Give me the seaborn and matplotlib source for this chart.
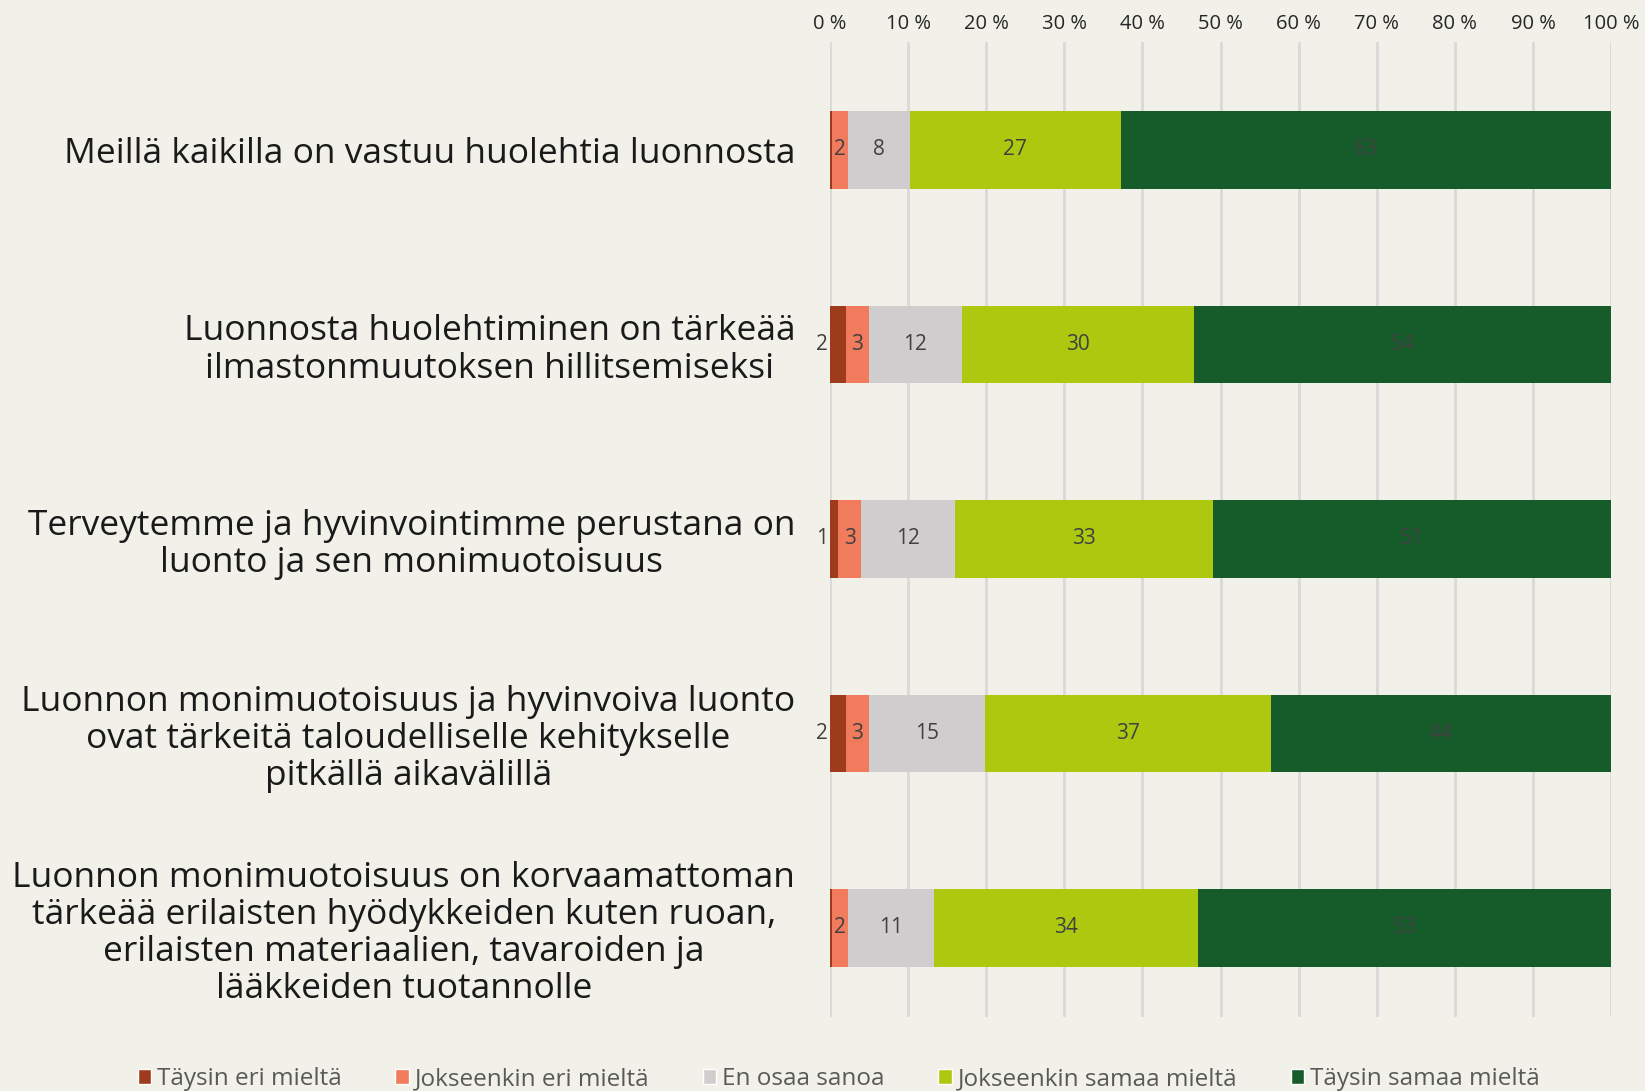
import numpy as np
import pandas as pd
import seaborn as sns
from matplotlib import pyplot as plt
from matplotlib.patches import Patch

statements = ['Meillä kaikilla on vastuu huolehtia luonnosta',
              'Luonnosta huolehtiminen on tärkeää\nilmastonmuutoksen hillitsemiseksi',
              'Terveytemme ja hyvinvointimme perustana on\nluonto ja sen monimuotoisuus',
              'Luonnon monimuotoisuus ja hyvinvoiva luonto\novat tärkeitä taloudelliselle kehitykselle\npitkällä aikavälillä',
              'Luonnon monimuotoisuus on korvaamattoman\ntärkeää erilaisten hyödykkeiden kuten ruoan,\nerilaisten materiaalien, tavaroiden ja\nlääkkeiden tuotannolle']
answers = ['Täysin eri mieltä', 'Jokseenkin eri mieltä', 'En osaa sanoa',
           'Jokseenkin samaa mieltä', 'Täysin samaa mieltä']
taysin_eri = [0.3, 2, 1, 2, 0.3]
jokseenkin_eri = [2, 3, 3, 3, 2]
en_osaa = [8, 12, 12, 15, 11]
jokseenkin_samaa = [27, 30, 33, 37, 34]
taysin_samaa = [63, 54, 51, 44, 53]
# labels shown in the chart (blank = no label)
eri_labels = ['', '2', '1', '2', '']

colors = ['#9E3B1C', '#F07B5D', '#CFCDCE', '#ACC90F', '#165C2B']
bg = '#F1F0E9'

df = pd.DataFrame({'kysymys': statements,
                   answers[0]: taysin_eri, answers[1]: jokseenkin_eri,
                   answers[2]: en_osaa, answers[3]: jokseenkin_samaa,
                   answers[4]: taysin_samaa})
vals = df[answers]
pct = vals.div(vals.sum(axis=1), axis=0) * 100
cum = pct.cumsum(axis=1)

sns.set_style('white')
plt.rcParams['font.family'] = ['Open Sans', 'DejaVu Sans']

fig = plt.figure(figsize=(16.45, 10.91), dpi=100, facecolor=bg)
ax = fig.add_axes([0.5046, 0.068, 0.4748, 0.8935])
ax.set_facecolor(bg)

for i in range(len(answers) - 1, -1, -1):
    d = pd.DataFrame({'kysymys': statements, 'x': cum[answers[i]].values})
    sns.barplot(data=d, x='x', y='kysymys', orient='h', color=colors[i],
                width=0.4, saturation=1, ax=ax, zorder=3, linewidth=0)

# data labels
for r in range(len(statements)):
    left = 0
    for i, a in enumerate(answers):
        w = pct[a].iloc[r]
        v = vals[a].iloc[r]
        if i == 0:
            if eri_labels[r]:
                ax.text(-0.3, r, eri_labels[r], ha='right', va='center',
                        fontsize=15, color='#404040', zorder=5)
        else:
            ax.text(left + w / 2, r, '%d' % v, ha='center', va='center',
                    fontsize=15, color='#404040', zorder=5)
        left += w

ax.set_xlim(0, 100)
ax.set_ylim(4.457, -0.555)
ax.set_xticks(np.arange(0, 101, 10))
ax.set_xticklabels(['%d %%' % t for t in range(0, 101, 10)], fontsize=14.5, color='#262626')
ax.xaxis.tick_top()
ax.tick_params(axis='x', length=0, pad=6)
ax.tick_params(axis='y', length=0, pad=25)
ax.set_yticks(range(len(statements)))
ax.set_yticklabels(statements, fontsize=25.5, color='#1a1a1a', multialignment='center',
                   linespacing=1.12)
ax.grid(axis='x', color='#D9D9D9', linewidth=2, zorder=0)
ax.set_axisbelow(True)
for s in ax.spines.values():
    s.set_visible(False)
ax.set_xlabel('')
ax.set_ylabel('')

handles = [Patch(facecolor=c, label=a) for c, a in zip(colors, answers)]
fig.legend(handles=handles, loc='lower center', bbox_to_anchor=(0.51, -0.02), ncol=5,
           frameon=False, fontsize=17.5, handlelength=0.55, handleheight=0.55,
           handletextpad=0.25, columnspacing=2.2, labelcolor='#595959')

fig.savefig('out.png', dpi=100, facecolor=bg)
